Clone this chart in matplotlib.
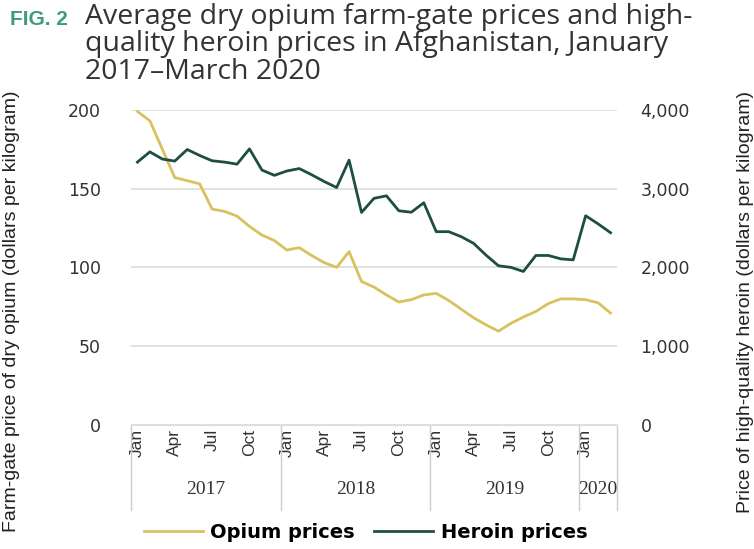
import matplotlib.pyplot as plt
from matplotlib import transforms

# monthly data, Jan 2017 - Mar 2020
opium = [199, 193, 175, 157, 155, 153, 137, 135.5, 132.5, 126, 120.5, 117, 111,
         112.5, 107.5, 103, 100, 110, 91, 87.5, 82.5, 78, 79.5, 82.5, 83.5, 79,
         73.5, 68, 63.5, 59.5, 64.5, 68.5, 72, 77, 80, 80, 79.5, 77.5, 71]
heroin = [3336, 3466, 3375, 3349, 3496, 3420, 3353, 3336, 3310, 3504, 3235, 3168,
          3223, 3254, 3175, 3090, 3013, 3361, 2697, 2876, 2908, 2718, 2700, 2820,
          2453, 2453, 2390, 2305, 2155, 2020, 2000, 1948, 2151, 2151, 2108, 2095,
          2655, 2552, 2440]
month_ticks = [0, 3, 6, 9, 12, 15, 18, 21, 24, 27, 30, 33, 36]
month_labels = ["Jan", "Apr", "Jul", "Oct"] * 3 + ["Jan"]
years = ["2017", "2018", "2019", "2020"]
year_bounds = [-0.5, 11.5, 23.5, 35.5, 38.5]

opium_col = "#d9c25e"
heroin_col = "#1e4d44"
grid_col = "#dcdcdc"
text_col = "#333333"

fig = plt.figure(figsize=(7.54, 5.49), dpi=100)
ax = fig.add_axes([0.174, 0.226, 0.644, 0.574])
ax2 = ax.twinx()

x = list(range(len(opium)))
ax.plot(x, opium, color=opium_col, lw=2, label="Opium prices")
ax2.plot(x, heroin, color=heroin_col, lw=2, label="Heroin prices")

ax.set_ylim(0, 200)
ax2.set_ylim(0, 4000)
ax.set_xlim(-0.5, 38.5)
ax.set_yticks([0, 50, 100, 150, 200])
ax2.set_yticks([0, 1000, 2000, 3000, 4000])
ax2.set_yticklabels(["0", "1,000", "2,000", "3,000", "4,000"])
ax.grid(axis="y", color=grid_col, lw=1.2)
ax.set_axisbelow(True)

for a in (ax, ax2):
    for s in a.spines.values():
        s.set_visible(False)
ax.spines["bottom"].set_visible(True)
ax.spines["bottom"].set_color(grid_col)

ax.tick_params(axis="y", length=0, pad=22, labelsize=12.5, labelcolor=text_col)
ax2.tick_params(axis="y", length=0, pad=17, labelsize=12.5, labelcolor=text_col)

ax.set_xticks(month_ticks)
ax.set_xticklabels(month_labels, rotation=90, fontsize=12.5, family="Liberation Sans",
                   color=text_col)
ax.tick_params(axis="x", length=0, pad=3)

# year labels and separators under the month labels
trans = transforms.blended_transform_factory(ax.transData, ax.transAxes)
for b in year_bounds:
    ax.plot([b, b], [0, -0.27], transform=trans, color="#cccccc", lw=1, clip_on=False)
for i, yr in enumerate(years):
    mid = (year_bounds[i] + year_bounds[i + 1]) / 2
    ax.text(mid, -0.205, yr, transform=trans, ha="center", va="center",
            fontsize=14, family="Liberation Serif", color=text_col)

ax.set_ylabel("Farm-gate price of dry opium (dollars per kilogram)", fontsize=14,
              family="Liberation Sans", color="#222222")
ax2.set_ylabel("Price of high-quality heroin (dollars per kilogram)", fontsize=14,
               family="Liberation Sans", color="#222222")
ax.yaxis.set_label_coords(-0.23, 0.36)
ax2.yaxis.set_label_coords(1.248, 0.39)

# title
fig.text(0.013, 0.982, "FIG. 2", fontsize=15, fontweight="bold", color="#3d9b80",
         va="top", family="Liberation Sans")
fig.text(0.113, 0.995, "Average dry opium farm-gate prices and high-\n"
         "quality heroin prices in Afghanistan, January\n2017\u2013March 2020",
         fontsize=20.5, color="#333333", va="top", linespacing=0.98,
         family="Open Sans")

h1, l1 = ax.get_legend_handles_labels()
h2, l2 = ax2.get_legend_handles_labels()
fig.legend(h1 + h2, l1 + l2, loc="center", bbox_to_anchor=(0.485, 0.03), ncol=2,
           frameon=False, prop={"weight": "bold", "size": 14}, handlelength=3,
           columnspacing=1.0, handletextpad=0.4)

fig.savefig("out.png", dpi=100)
